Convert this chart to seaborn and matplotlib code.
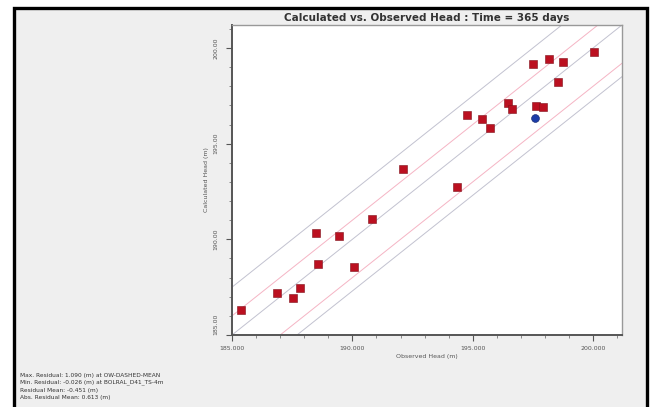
import numpy as np
import pandas as pd
import seaborn as sns
import matplotlib
matplotlib.use("Agg")
import matplotlib.pyplot as plt
from matplotlib.patches import Rectangle
from matplotlib.ticker import MultipleLocator, FormatStrFormatter

# Observed vs calculated heads (m) at the observation wells
observed = [185.36, 186.89, 187.53, 187.83, 188.50, 188.57, 189.43, 190.05,
            190.82, 192.11, 194.33, 194.75, 195.38, 195.72, 196.47, 196.61,
            197.49, 197.63, 197.90, 198.15, 198.53, 198.76, 200.03]
calculated = [186.30, 187.20, 186.91, 187.46, 190.33, 188.73, 190.19, 188.54,
              191.06, 193.66, 192.76, 196.51, 196.27, 195.80, 197.10, 196.82,
              199.15, 196.98, 196.93, 199.41, 198.24, 199.29, 199.81]
# highlighted well
sel_observed = [197.60]
sel_calculated = [196.34]

# reference line offsets (m) from the 1:1 line
gray_offsets = [2.5, 0.0, -2.7]
pink_offsets = [1.0, -2.0]

x_ticks = [185, 190, 195, 200]
y_ticks = [185, 190, 195, 200]
axis_min, axis_max = 185.0, 201.2

stats_lines = [
    "Max. Residual: 1.090 (m) at OW-DASHED-MEAN",
    "Min. Residual: -0.026 (m) at BOLRAL_D41_TS-4m",
    "Residual Mean: -0.451 (m)",
    "Abs. Residual Mean: 0.613 (m)",
]

W, H = 654, 407
sns.set_theme(style="white")
plt.rcParams["font.family"] = ["DejaVu Sans"]

fig = plt.figure(figsize=(W / 100, H / 100), dpi=100, facecolor="white")

# window panel with dark border
fig.add_artist(Rectangle((13.5 / W, -0.05), (647 - 13.5) / W, 1.05 - 8 / H,
                         transform=fig.transFigure, facecolor="#efefef",
                         edgecolor="black", linewidth=2.4, zorder=0))

ax = fig.add_axes([232 / W, (H - 335) / H, 390 / W, 310 / H])
ax.set_facecolor("white")

line_x = np.array([axis_min - 5, axis_max + 5])
for off in gray_offsets:
    ax.plot(line_x, line_x + off, color="#c2c2d0", lw=0.7, zorder=1)
for off in pink_offsets:
    ax.plot(line_x, line_x + off, color="#f5b4c4", lw=0.7, zorder=1)

df = pd.DataFrame({"Observed": observed, "Calculated": calculated})
sns.scatterplot(data=df, x="Observed", y="Calculated", marker="s", s=34,
                color="#bb1020", edgecolor="#80101a", linewidth=0.4, ax=ax, zorder=3)
df_sel = pd.DataFrame({"Observed": sel_observed, "Calculated": sel_calculated})
sns.scatterplot(data=df_sel, x="Observed", y="Calculated", marker="o", s=32,
                color="#1c3ca8", edgecolor="#0d1f66", linewidth=0.4, ax=ax, zorder=3)

ax.set_xlim(axis_min, axis_max)
ax.set_ylim(axis_min, axis_max)
ax.set_xticks(x_ticks)
ax.set_yticks(y_ticks)
ax.xaxis.set_minor_locator(MultipleLocator(1))
ax.yaxis.set_minor_locator(MultipleLocator(1))
ax.xaxis.set_major_formatter(FormatStrFormatter("%.3f"))
ax.yaxis.set_major_formatter(FormatStrFormatter("%.2f"))
ax.tick_params(axis="both", which="major", direction="out", length=4, width=0.8,
               color="#555555", labelsize=4.5, labelcolor="#555555",
               bottom=True, left=True)
ax.tick_params(axis="both", which="minor", direction="out", length=2.5, width=0.6,
               color="#777777", bottom=True, left=True)
ax.tick_params(axis="x", which="major", pad=4)
ax.tick_params(axis="y", which="major", pad=6)
for lbl in ax.get_yticklabels():
    lbl.set_rotation(90)
    lbl.set_va("center")
ax.get_yticklabels()[0].set_va("bottom")

for side in ["left", "bottom"]:
    ax.spines[side].set_color("#555555")
    ax.spines[side].set_linewidth(1.4)
for side in ["top", "right"]:
    ax.spines[side].set_color("#999999")
    ax.spines[side].set_linewidth(1.0)

ax.set_xlabel("Observed Head (m)", fontsize=4.5, color="#555555", labelpad=2)
ax.set_ylabel("Calculated Head (m)", fontsize=4.5, color="#555555", labelpad=3)
ax.set_title("Calculated vs. Observed Head : Time = 365 days",
             fontsize=7.5, fontweight="bold", color="#333333", pad=3)

for i, txt in enumerate(stats_lines):
    fig.text(20 / W, 1 - (375 + i * 7.6) / H, txt, fontsize=4.2,
             color="#333333", va="center", ha="left")

fig.savefig("out.png", dpi=100, facecolor="white")
